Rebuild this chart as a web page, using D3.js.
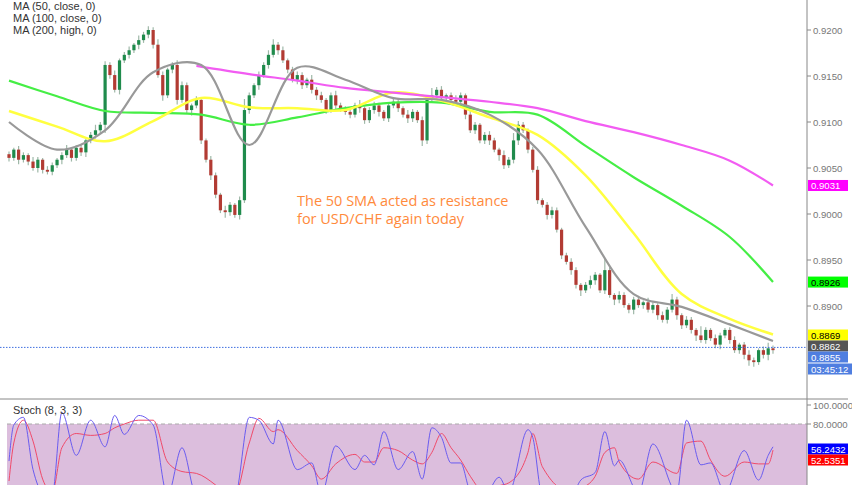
<!DOCTYPE html>
<html><head><meta charset="utf-8">
<script src="https://cdn.jsdelivr.net/npm/d3@7"></script>
<style>body{margin:0;background:#fff}svg{display:block;font-family:"Liberation Sans",Arial,sans-serif}</style>
</head><body><svg id="c" width="852" height="485"></svg>
<script>
const closes=[.9061,.9070,.9059,.9064,.9057,.9050,.9059,.9048,.9046,.9053,.9059,.9064,.9070,.9061,.9072,.9067,.9080,.9086,.9091,.9097,
.9162,.9151,.9135,.9167,.9173,.9178,.9184,.9189,.9195,.9200,.9184,.9151,.9129,.9157,.9162,.9124,.9140,.9113,.9118,.9124,
.9080,.9059,.9042,.9021,.9004,.9002,.9010,.8999,.9015,.9113,.9129,.9140,.9151,.9162,.9173,.9184,.9178,.9167,.9157,.9146,
.9151,.9140,.9146,.9135,.9129,.9124,.9113,.9129,.9118,.9115,.9111,.9108,.9118,.9115,.9102,.9113,.9118,.9111,.9104,.9118,
.9122,.9115,.9108,.9104,.9111,.9102,.9080,.9124,.9129,.9135,.9126,.9129,.9124,.9122,.9129,.9108,.9091,.9097,.9080,.9086,
.9080,.9070,.9064,.9053,.9059,.9080,.9097,.9091,.9070,.9048,.9015,.9010,.8999,.9004,.8983,.8955,.8948,.8939,.8923,.8917,
.8923,.8928,.8934,.8917,.8939,.8912,.8907,.8912,.8901,.8896,.8907,.8901,.8904,.8896,.8901,.8890,.8885,.8896,.8907,.8890,
.8879,.8885,.8874,.8868,.8863,.8874,.8865,.8858,.8868,.8874,.8863,.8852,.8858,.8847,.8841,.8839,.8852,.8847,.8854,.8852];
const wickUp=[3,2,4,3,2,5,3,2,4,3,2,3,5,2,3,4,2,3,6,3,4,3,5,2,3,4,2,5,3,4,3,6,4,2,3,5,4,3,2,4,
3,2,4,3,2,5,3,2,4,12,3,2,4,3,5,6,3,4,2,3,4,3,2,5,3,4,2,3,5,3,2,4,3,6,2,3,4,3,2,3,
4,3,2,5,3,2,4,3,8,3,4,2,3,5,3,2,4,3,2,3,4,3,2,5,3,8,4,3,2,3,4,2,3,4,3,2,3,4,3,2,
3,5,3,2,12,3,2,4,3,2,3,4,2,5,3,2,4,3,6,3,2,4,3,2,10,3,2,4,3,2,3,4,2,3,5,3,2,4,6,3];
const wickDn=[4,3,5,3,4,3,5,4,3,4,3,5,3,4,3,4,5,3,4,3,9,4,3,5,3,4,3,5,3,4,4,3,6,3,4,5,3,4,6,3,
4,3,5,4,3,6,4,3,5,3,4,3,5,3,4,3,5,3,4,3,5,4,3,4,5,3,4,3,5,4,3,4,3,5,4,3,4,5,3,4,
3,4,3,5,4,3,6,4,3,4,3,5,4,3,4,5,3,4,3,4,5,3,6,4,3,4,5,3,4,3,4,3,5,4,3,4,3,5,4,6,
3,4,5,3,4,3,6,4,3,4,5,3,4,3,4,5,3,4,3,5,4,3,4,6,3,4,3,4,5,3,4,3,4,5,6,5,3,4,6,4];
const maIdx=[0,10,20,30,40,50,60,70,80,90,100,110,120,130,140,150,159];
const ma50=[.9100,.9070,.9091,.9154,.9162,.9075,.9159,.9146,.9126,.9124,.9108,.9070,.8986,.8913,.8899,.8880,.8862];
const ma100=[.9112,.9095,.9079,.9101,.9126,.9116,.9115,.9113,.9132,.9123,.9105,.9086,.9042,.8979,.8913,.8886,.8869];
const ma200=[.9145,.9128,.9112,.9110,.9108,.9097,.9105,.9115,.9121,.9121,.9111,.9108,.9074,.9040,.9009,.8975,.8926];
const maHighIdx=[39,50,60,70,80,90,100,110,120,130,140,150,159];
const maHigh=[.9161,.9152,.9145,.9137,.9132,.9127,.9122,.9115,.9101,.9089,.9075,.9058,.9031];
const stIdx=[0,1,3,5,7,9,11,14,17,20,22,24,27,30,33,36,39,47,50,52,55,56,60,63,65,68,72,74,76,78,81,84,86,88,90,92,94,96,99,102,104,108,109,111,117,119,122,124,126,127,131,134,139,141,144,146,149,153,156,158,159];
const stK=[41,79,87,32,8,6,92,47,84,56,89,69,89,79,5,55,5,4,87,84,59,84,32,39,6,57,32,47,37,72,32,51,22,76,66,39,39,10,5,24,8,74,66,5,5,21,29,72,36,42,8,59,8,84,37,39,8,52,21,47,56];
const stD=[20,60,84,62,22,8,55,70,68,70,76,80,84,84,40,30,28,6,60,86,72,74,52,36,22,38,48,40,40,55,52,42,38,50,70,55,42,25,8,15,18,50,70,35,8,12,25,50,55,40,22,40,28,60,62,42,25,40,38,38,52.5];
const priceTicks=[.9200,.9150,.9100,.9050,.9000,.8950,.8900];
const stochTicks=[100,80];
const legend=["MA (50, close, 0)","MA (100, close, 0)","MA (200, high, 0)"];
const lastPrice=.8855, timer="03:45:12";

const svg=d3.select("#c");
const x=d3.scaleLinear().domain([0,closes.length-1]).range([9,773]);
const y=d3.scaleLinear().domain([.88,.92]).range([398,30]);
const ys=d3.scaleLinear().domain([100,80]).range([405,424]);
const AX=807, FS=9.6;

svg.append("rect").attr("x",7).attr("y",ys(80)).attr("width",AX-7).attr("height",485-ys(80)).attr("fill","#dcbedd");
svg.append("line").attr("x1",7).attr("x2",AX).attr("y1",ys(80)).attr("y2",ys(80)).attr("stroke","#aaa").attr("stroke-dasharray","4,3");

const g=svg.append("g");
closes.forEach((c,i)=>{
  const o=i?closes[i-1]:c+0.0004;
  const up=c>=o;
  const hi=Math.max(o,c)+(wickUp[i]||3)*1e-4, lo=Math.min(o,c)-(wickDn[i]||3)*1e-4;
  g.append("line").attr("x1",x(i)).attr("x2",x(i)).attr("y1",y(hi)).attr("y2",y(lo)).attr("stroke","#9fb8a8").attr("stroke-width",1.2);
  const t=y(Math.max(o,c)),b=y(Math.min(o,c));
  g.append("rect").attr("x",x(i)-1.6).attr("y",t).attr("width",3.2).attr("height",Math.max(1,b-t)).attr("fill",up?"#1f8b4c":"#b23b33");
});
const line=(idx)=>d3.line().x((d,k)=>x(idx[k])).y(d=>y(d)).curve(d3.curveCatmullRom);
svg.append("path").datum(ma200).attr("d",line(maIdx)).attr("fill","none").attr("stroke","#45ee45").attr("stroke-width",2.2);
svg.append("path").datum(ma100).attr("d",line(maIdx)).attr("fill","none").attr("stroke","#ffff40").attr("stroke-width",2.5);
svg.append("path").datum(maHigh).attr("d",line(maHighIdx)).attr("fill","none").attr("stroke","#f25cf2").attr("stroke-width",2.2);
svg.append("path").datum(ma50).attr("d",line(maIdx)).attr("fill","none").attr("stroke","#999").attr("stroke-width",2.2);
svg.append("line").attr("x1",0).attr("x2",AX).attr("y1",y(lastPrice)).attr("y2",y(lastPrice)).attr("stroke","#3f6fe0").attr("stroke-dasharray","1.5,1.5");

const sl=d3.line().x((d,k)=>x(stIdx[k])).y(d=>ys(d)).curve(d3.curveMonotoneX);
svg.append("path").datum(stD).attr("d",sl).attr("fill","none").attr("stroke","#f04a6a").attr("stroke-width",1);
svg.append("path").datum(stK).attr("d",sl).attr("fill","none").attr("stroke","#6a5cf0").attr("stroke-width",1);

svg.append("rect").attr("x",0).attr("y",399).attr("width",AX).attr("height",4).attr("fill","#fff");
svg.append("line").attr("x1",AX).attr("x2",AX).attr("y1",0).attr("y2",485).attr("stroke","#888");
svg.append("line").attr("x1",0).attr("x2",848).attr("y1",399).attr("y2",399).attr("stroke","#888");

priceTicks.forEach(p=>{
  svg.append("line").attr("x1",AX).attr("x2",AX+4).attr("y1",y(p)).attr("y2",y(p)).attr("stroke","#888");
  svg.append("text").attr("x",AX+6).attr("y",y(p)+3.5).attr("font-size",FS).attr("fill","#777").text(p.toFixed(4));
});
stochTicks.forEach(v=>{
  svg.append("line").attr("x1",AX).attr("x2",AX+4).attr("y1",ys(v)).attr("y2",ys(v)).attr("stroke","#888");
  svg.append("text").attr("x",AX+6).attr("y",ys(v)+3.5).attr("font-size",FS).attr("fill","#777").text(v.toFixed(4));
});
const box=(yy,txt,bg,fg,w=40)=>{
  svg.append("rect").attr("x",AX+1).attr("y",yy-5.5).attr("width",w).attr("height",11).attr("fill",bg);
  svg.append("text").attr("x",AX+4).attr("y",yy+3.5).attr("font-size",FS).attr("fill",fg).text(txt);
};
box(y(maHigh[maHigh.length-1]),"0.9031","#ff00ff","#fff");
box(y(ma200[ma200.length-1]),"0.8926","#00ff00","#000");
box(335,"0.8869","#ffff00","#000");
box(346,"0.8862","#555","#fff");
box(357,"0.8855","#4f7ee0","#fff");
box(369,timer,"#4f7ee0","#fff",44);
box(449,"56.2432","#0000ff","#fff");
box(460,"52.5351","#ff0000","#fff");

legend.forEach((t,i)=>svg.append("text").attr("x",13).attr("y",10+i*12).attr("font-size",11).attr("fill","#333").text(t));
svg.append("text").attr("x",13).attr("y",414).attr("font-size",11).attr("fill","#333").text("Stoch (8, 3, 3)");
svg.append("text").attr("x",297).attr("y",206).attr("font-size",14.5).attr("fill","#ff8a3c").attr("font-family","Open Sans").text("The 50 SMA acted as resistance");
svg.append("text").attr("x",297).attr("y",224).attr("font-size",14.5).attr("fill","#ff8a3c").attr("font-family","Open Sans").text("for USD/CHF again today");
</script></body></html>
